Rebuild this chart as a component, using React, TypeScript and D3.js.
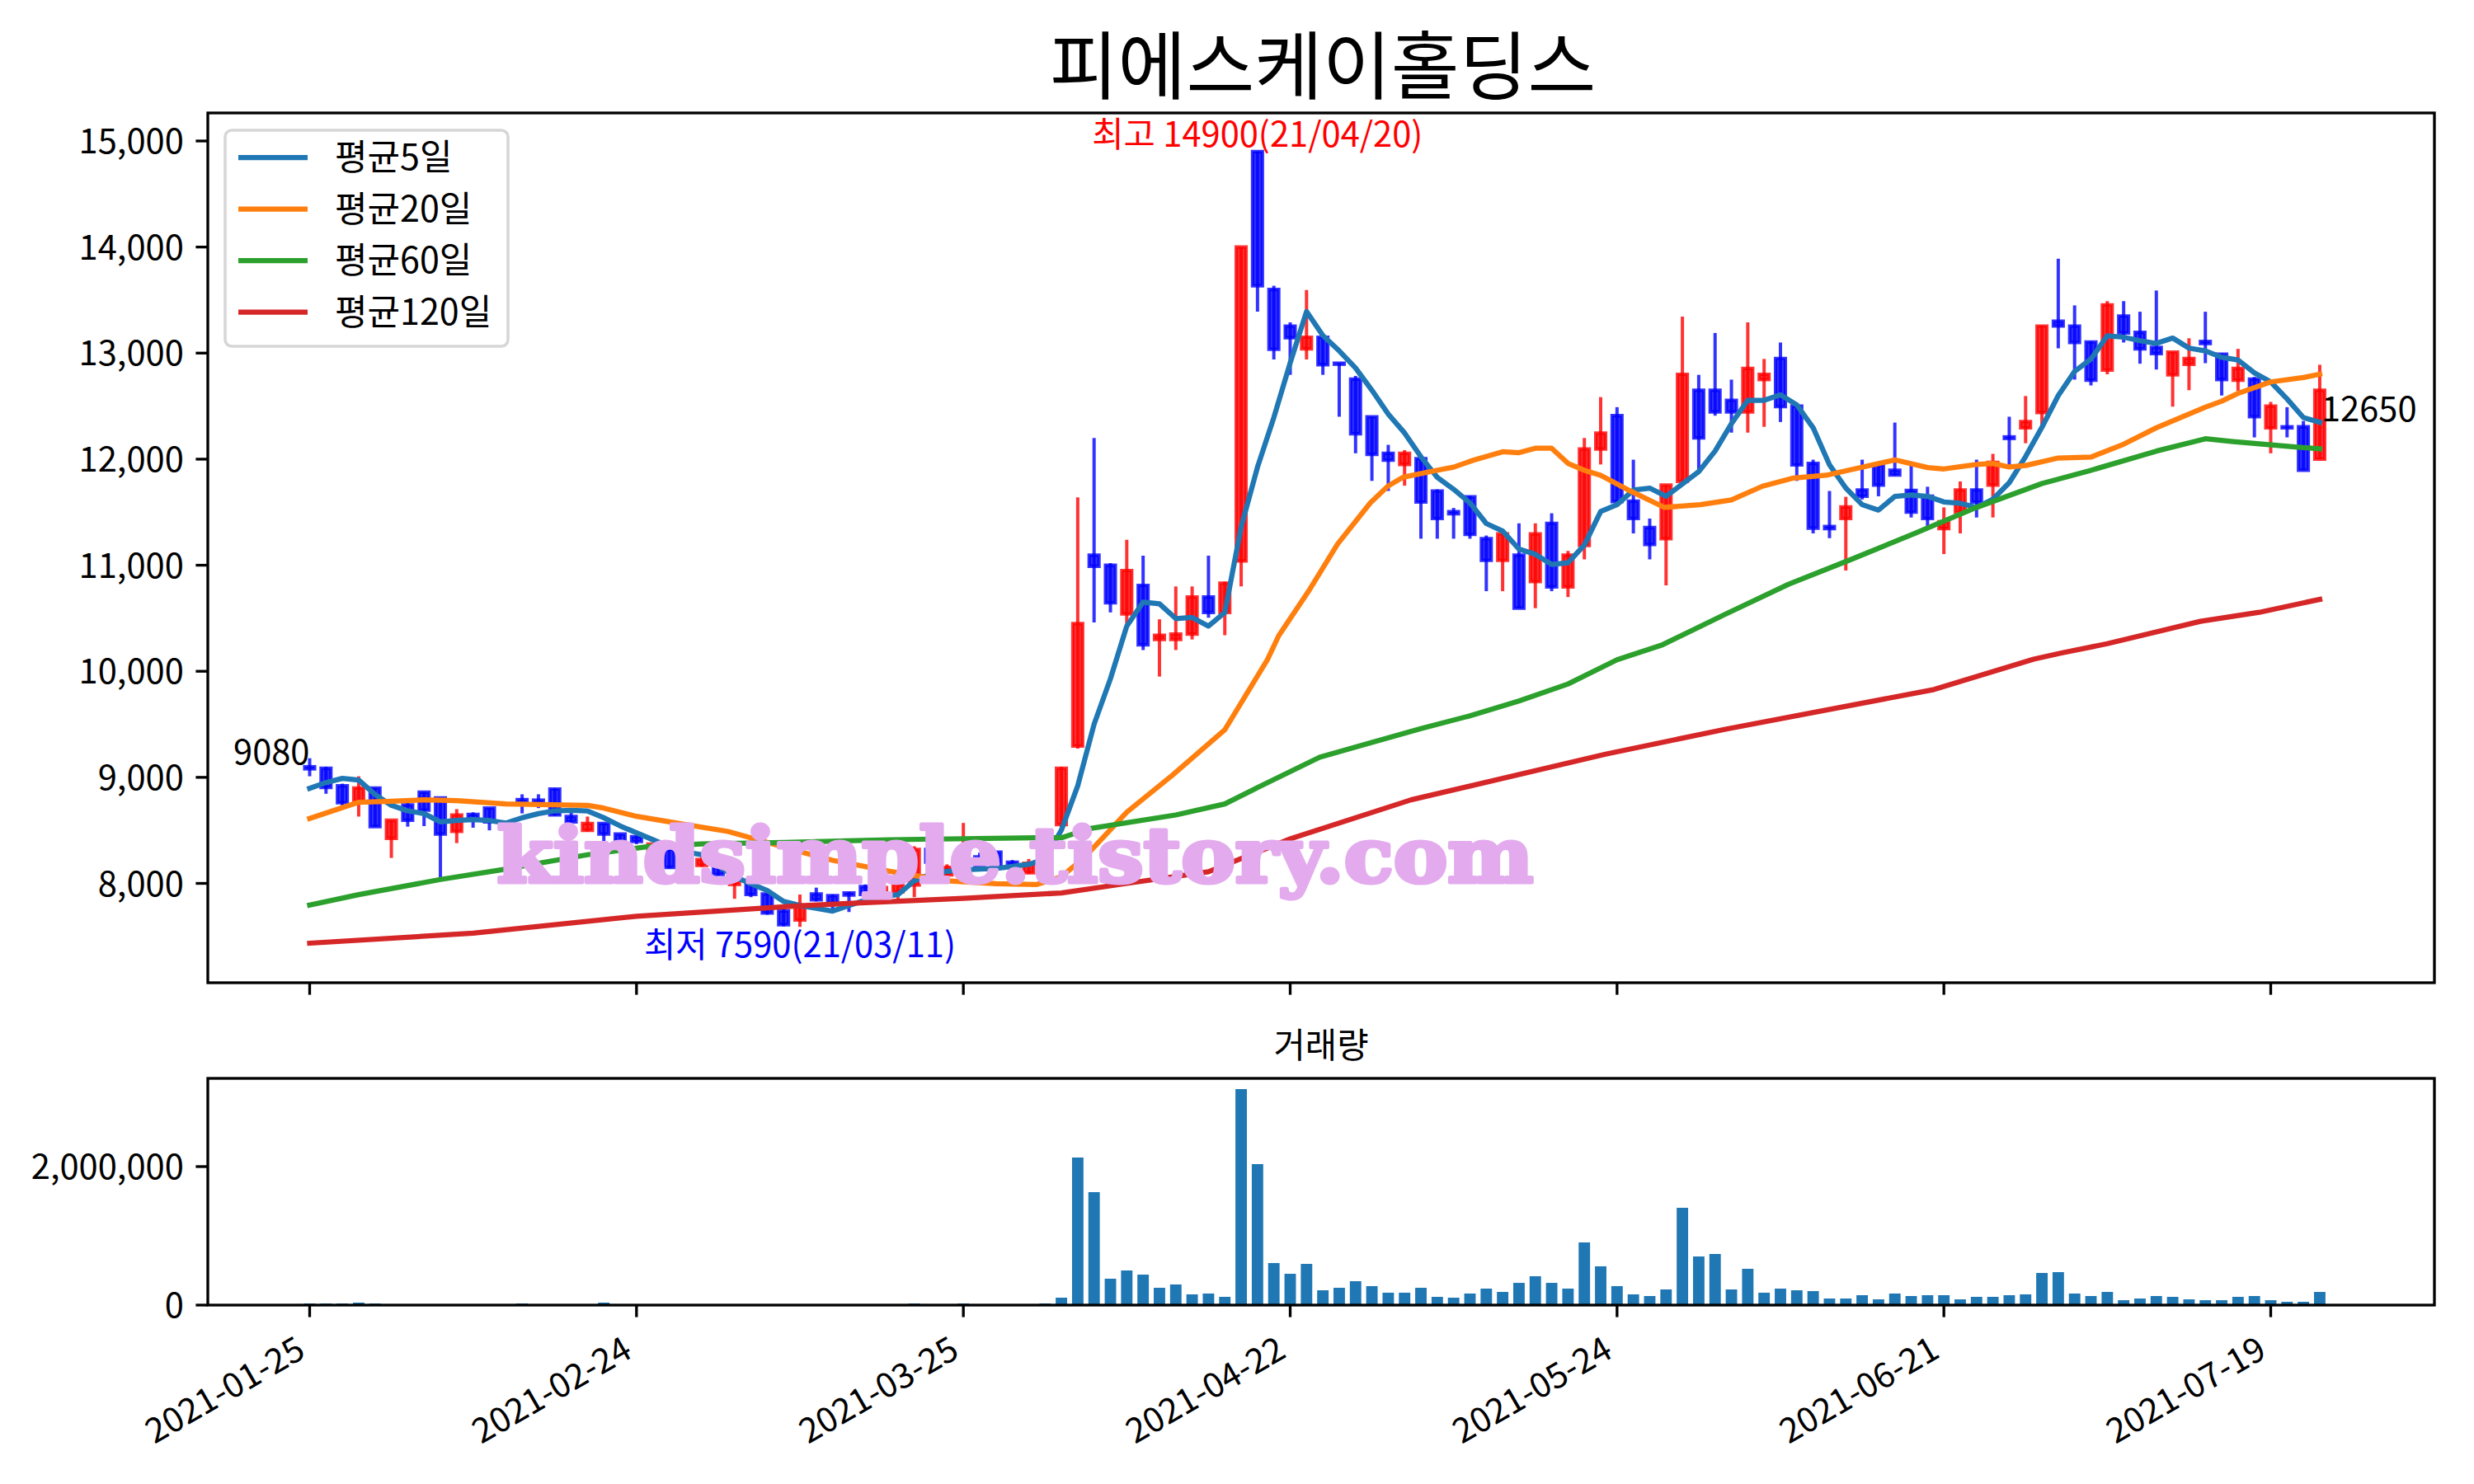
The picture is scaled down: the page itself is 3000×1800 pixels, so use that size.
import React from "react";
import * as d3 from "d3";

const tickIndex = [0, 20, 40, 60, 80, 100, 120];
const tickLabels = ["2021-01-25", "2021-02-24", "2021-03-25", "2021-04-22", "2021-05-24", "2021-06-21", "2021-07-19"];
const priceTicks = [8000, 9000, 10000, 11000, 12000, 13000, 14000, 15000];
const volumeTicks = [0, 2000000];

const opens = [9100,9085,8920,8775,8900,8425,8740,8860,8805,8490,8650,8710,8575,8790,8785,8890,8630,8500,8565,8465,8440,8250,8320,8200,8170,8190,7990,8005,7900,7740,7655,7900,7885,7910,7970,7900,7920,7985,8320,8080,8100,8250,8295,8200,8100,8190,8555,9295,11095,11000,10540,10810,10300,10300,10350,10700,10555,11040,14900,13600,13255,13040,13150,12905,12755,12400,12055,11950,12005,11700,11505,11645,11250,11045,11095,10845,11395,10795,11185,12095,12410,11605,11355,11250,11790,12650,12650,12555,12445,12750,12950,12500,11960,11365,11440,11710,11945,11895,11705,11650,11345,11500,11710,11755,12210,12295,12440,13300,13255,13105,12840,13350,13195,13055,12795,12895,13110,12990,12745,12755,12295,12305,12305,12000];
const highs = [9180,9100,8940,9010,8900,8595,8770,8860,8805,8700,8670,8710,8590,8840,8840,8895,8670,8630,8565,8465,8450,8380,8330,8240,8295,8195,8035,8015,7910,7760,7895,7960,7895,7920,7990,7980,8035,8350,8330,8180,8570,8290,8300,8220,8230,8500,9100,11640,12200,11020,11240,11090,10490,10800,10800,11090,10845,14000,14900,13635,13290,13595,13165,12905,12785,12400,12135,12085,12040,11715,11540,11652,11280,11300,11395,11395,11490,11135,12200,12585,12490,11995,11440,11755,13345,12795,13190,12750,13290,12945,13100,12510,11995,11700,11645,11995,11950,12345,11950,11740,11545,11790,11995,12050,12400,12595,13260,13890,13450,13110,13490,13490,13390,13590,13010,13140,13390,12995,13040,12775,12540,12490,12360,12890];
const lows = [9010,8845,8735,8630,8535,8240,8535,8540,8050,8380,8525,8500,8540,8660,8710,8640,8575,8490,8400,8330,8370,8240,8140,8150,8155,8075,7855,7870,7705,7595,7590,7830,7725,7730,7880,7880,7845,7870,8150,8060,8080,8130,8140,8120,8090,8170,8490,9270,10460,10555,10430,10200,9950,10200,10300,10505,10340,10800,13390,12940,12795,12940,12795,12400,12055,11795,11700,11750,11250,11250,11250,11250,10755,10755,10595,10595,10755,10700,11055,11950,11600,11300,11055,10810,11790,11895,12410,12250,12250,12305,12350,11795,11300,11255,10950,11620,11650,11845,11450,11355,11105,11300,11450,11450,11910,12150,12285,13045,12750,12695,12800,13100,12900,12845,12495,12650,12905,12600,12645,12205,12055,12205,11895,12000];
const closes = [9080,8905,8760,8900,8535,8595,8595,8690,8465,8645,8605,8580,8560,8770,8765,8645,8580,8565,8465,8380,8395,8370,8150,8205,8225,8085,8015,7895,7720,7610,7780,7845,7805,7890,7895,7960,7990,8320,8200,8150,8200,8150,8155,8150,8190,8460,9085,10450,10990,10645,10950,10250,10340,10350,10700,10555,10830,14000,13635,13035,13145,13150,12890,12895,12240,12045,11990,12055,11595,11440,11485,11290,11045,11295,10595,11295,10795,11095,12095,12245,11600,11440,11195,11755,12800,12200,12445,12445,12855,12800,12495,11945,11350,11345,11550,11650,11755,11850,11500,11440,11410,11710,11595,11970,12195,12355,13255,13255,13100,12745,13455,13190,13040,12995,13010,12950,13090,12750,12855,12400,12500,12295,11895,12650];
const volumes = [24000,24000,24000,36000,24000,0,0,0,0,0,0,0,0,24000,0,0,0,0,36000,0,0,0,0,0,0,0,0,0,0,0,0,0,0,0,0,0,0,24000,0,0,24000,0,0,0,0,24000,107000,2131000,1631000,381000,500000,440000,250000,298000,155000,167000,119000,3119000,2036000,607000,452000,595000,214000,250000,345000,274000,179000,179000,250000,119000,107000,167000,238000,190000,321000,417000,321000,238000,905000,560000,274000,155000,131000,226000,1405000,702000,738000,226000,524000,179000,238000,214000,202000,95000,95000,143000,83000,167000,131000,143000,143000,83000,119000,119000,143000,155000,464000,476000,167000,131000,190000,71000,95000,131000,119000,83000,71000,71000,119000,131000,71000,48000,48000,190000];

const ma5 = [8896,8951,8990,8974,8839,8736,8684,8658,8580,8593,8601,8593,8568,8619,8658,8684,8689,8684,8619,8542,8477,8412,8348,8296,8270,8166,8063,7998,7933,7830,7791,7765,7739,7791,7843,7876,7894,8024,8089,8114,8127,8135,8140,8161,8179,8230,8503,8920,9500,9930,10426,10652,10636,10497,10507,10426,10555,11361,11925,12393,12908,13392,13166,13021,12860,12650,12425,12247,12022,11829,11716,11587,11393,11322,11152,11103,11007,11023,11190,11507,11571,11709,11727,11649,11766,11882,12076,12335,12555,12555,12607,12511,12296,11947,11727,11571,11520,11649,11662,11649,11597,11584,11545,11623,11778,12024,12300,12600,12827,12943,13163,13150,13117,13091,13142,13047,13021,12961,12935,12814,12728,12568,12392,12348];
const ma20 = [[0,8612],[3,8765],[5,8775],[7,8788],[9,8780],[12,8749],[17,8736],[18,8710],[20,8632],[23,8555],[25.6,8490],[28,8386],[30,8300],[32,8218],[35.5,8114],[39,8024],[42,7998],[44.5,7990],[46,8063],[47.4,8244],[50,8671],[52.8,9021],[56,9448],[58.6,10108],[59.3,10336],[61.1,10749],[62.9,11200],[64.9,11587],[66,11748],[66.9,11829],[68.9,11893],[70,11925],[71.2,11990],[73,12070],[74,12061],[75,12103],[76,12103],[77,11960],[78,11895],[79,11848],[80.8,11701],[82.9,11545],[85.1,11571],[87,11615],[88.9,11745],[90.8,11822],[92.8,11848],[94.3,11900],[97,11993],[99,11921],[100,11908],[102,11950],[103,11960],[104,11926],[105,11940],[107,12011],[109,12019],[111,12141],[113,12296],[116,12490],[117,12547],[118,12620],[120,12728],[122,12770],[123,12801]];
const ma60 = [[0,7796],[3,7894],[8,8037],[11.7,8127],[17,8270],[20.7,8347],[24,8373],[29,8386],[35.5,8412],[44.5,8430],[46,8430],[47.7,8516],[53,8645],[56,8749],[58,8904],[61.8,9189],[65,9330],[68,9460],[71,9580],[74,9720],[77,9880],[80,10109],[82.8,10251],[86.6,10536],[90.5,10821],[94.3,11053],[98.2,11299],[102,11545],[106,11770],[109,11895],[113,12076],[116,12192],[117.7,12166],[121.5,12115],[123,12097]];
const ma120 = [[0,7436],[10,7530],[20,7690],[30,7790],[40,7860],[46,7910],[50,8000],[55,8110],[60,8420],[67.4,8788],[79.3,9218],[86.7,9456],[99.4,9828],[105.5,10114],[107.2,10173],[110,10260],[115.7,10471],[119.3,10556],[123,10678]];

const maSeries = [
  { label: "평균5일", color: "#1f77b4", pts: ma5.map((v, i) => [i, v]) },
  { label: "평균20일", color: "#ff7f0e", pts: ma20 },
  { label: "평균60일", color: "#2ca02c", pts: ma60 },
  { label: "평균120일", color: "#d62728", pts: ma120 },
];

const FONT = "'Noto Sans CJK KR', 'Noto Sans', sans-serif";
const FS = 41.67;

export default function App() {
  const main = { left: 252, right: 2952, top: 137, bottom: 1192 };
  const vol = { left: 252, right: 2952, top: 1308, bottom: 1583 };
  const x = d3.scaleLinear().domain([0, 120]).range([375.5, 2753.5]);
  const y = d3.scaleLinear().domain([8000, 15000]).range([1071.5, 171]);
  const yv = d3.scaleLinear().domain([0, 2000000]).range([1583, 1415]);
  const unit = x(1) - x(0);
  const fmt = d3.format(",");
  const line = d3.line<number[]>().x((d) => x(d[0])).y((d) => y(d[1]));
  const tickLen = 14.6;
  const spineW = 3.33;

  const candles = closes.map((c, i) => {
    const o = opens[i];
    const up = c > o;
    const col = up ? "#ff0000" : "#0000ff";
    const x0 = x(i) - 0.3 * unit;
    const x1 = x(i) + 0.3 * unit;
    const yt = y(Math.max(o, c));
    const yb = y(Math.min(o, c));
    return (
      <g key={i}>
        <line x1={x(i)} x2={x(i)} y1={y(highs[i])} y2={y(lows[i])} stroke={col} strokeOpacity={0.8} strokeWidth={4} />
        <path d={`M${x0},${yt}H${x1}V${yb}H${x0}Z`} fill={col} fillOpacity={0.8} stroke={col} strokeOpacity={0.8} strokeWidth={4.17} />
      </g>
    );
  });

  const last = closes.length - 1;

  return (
    <svg width={3000} height={1800} style={{ position: "absolute", left: 0, top: 0, background: "#fff" }} fontFamily={FONT}>
      <rect x={0} y={0} width={3000} height={1800} fill="#fff" />
      <defs>
        <clipPath id="mainClip"><rect x={main.left} y={main.top} width={main.right - main.left} height={main.bottom - main.top} /></clipPath>
        <clipPath id="volClip"><rect x={vol.left} y={vol.top} width={vol.right - vol.left} height={vol.bottom - vol.top} /></clipPath>
      </defs>

      <text x={1604} y={113} textAnchor="middle" fontSize={90} fill="#000">피에스케이홀딩스</text>

      <g clipPath="url(#mainClip)">
        {candles}
        {maSeries.map((s) => (
          <path key={s.label} d={line(s.pts as number[][]) || ""} fill="none" stroke={s.color} strokeWidth={6.25} strokeLinejoin="round" strokeLinecap="square" />
        ))}
      </g>

      <text x={x(58)} y={y(14900) - 6} textAnchor="middle" fontSize={FS} fill="#ff0000">최고 14900(21/04/20)</text>
      <text x={x(30)} y={y(7590) + 37} textAnchor="middle" fontSize={FS} fill="#0000ff">최저 7590(21/03/11)</text>
      <text x={x(0)} y={y(closes[0]) - 6} textAnchor="end" fontSize={FS} fill="#000">{closes[0]}</text>
      <text x={x(last) + 2} y={y(closes[last]) + 38} textAnchor="start" fontSize={FS} fill="#000">{closes[last]}</text>

      <text x={1231} y={1070} textAnchor="middle" fontFamily="'DejaVu Serif', serif" fontWeight="bold" fontSize={91} fill="#e3abee" stroke="#e3abee" strokeWidth={5} strokeLinejoin="round" textLength={1257} lengthAdjust="spacingAndGlyphs">kindsimple.tistory.com</text>

      {/* legend */}
      <g>
        <rect x={273} y={158} width={343} height={262} rx={8} ry={8} fill="#fff" fillOpacity={0.8} stroke="#cccccc" strokeOpacity={0.8} strokeWidth={3.5} />
        {maSeries.map((s, k) => {
          const cy = 191 + k * 62.5;
          return (
            <g key={s.label}>
              <line x1={289} x2={373} y1={cy} y2={cy} stroke={s.color} strokeWidth={6.25} />
              <text x={406} y={cy + 15} fontSize={43} fill="#000">{s.label}</text>
            </g>
          );
        })}
      </g>

      {/* main axes ticks */}
      {priceTicks.map((t) => (
        <g key={t}>
          <line x1={main.left - tickLen} x2={main.left} y1={y(t)} y2={y(t)} stroke="#000" strokeWidth={spineW} />
          <text x={main.left - tickLen - 14.6} y={y(t) + 15} textAnchor="end" fontSize={FS} fill="#000">{fmt(t)}</text>
        </g>
      ))}
      {tickIndex.map((t) => (
        <line key={t} x1={x(t)} x2={x(t)} y1={main.bottom} y2={main.bottom + tickLen} stroke="#000" strokeWidth={spineW} />
      ))}
      <rect x={main.left} y={main.top} width={main.right - main.left} height={main.bottom - main.top} fill="none" stroke="#000" strokeWidth={spineW} />

      {/* volume */}
      <text x={(vol.left + vol.right) / 2} y={1283} textAnchor="middle" fontSize={FS} fill="#000">거래량</text>
      <g clipPath="url(#volClip)">
        {volumes.map((v, i) => (
          <rect key={i} x={x(i) - 0.35 * unit} width={0.7 * unit} y={yv(v)} height={yv(0) - yv(v)} fill="#1f77b4" />
        ))}
      </g>
      {volumeTicks.map((t) => (
        <g key={t}>
          <line x1={vol.left - tickLen} x2={vol.left} y1={yv(t)} y2={yv(t)} stroke="#000" strokeWidth={spineW} />
          <text x={vol.left - tickLen - 14.6} y={yv(t) + 15} textAnchor="end" fontSize={FS} fill="#000">{fmt(t)}</text>
        </g>
      ))}
      {tickIndex.map((t, k) => (
        <g key={t}>
          <line x1={x(t)} x2={x(t)} y1={vol.bottom} y2={vol.bottom + tickLen} stroke="#000" strokeWidth={spineW} />
          <text transform={`translate(${x(t) - 3},${1645}) rotate(-30)`} textAnchor="end" fontSize={FS} fill="#000">{tickLabels[k]}</text>
        </g>
      ))}
      <rect x={vol.left} y={vol.top} width={vol.right - vol.left} height={vol.bottom - vol.top} fill="none" stroke="#000" strokeWidth={spineW} />
    </svg>
  );
}
